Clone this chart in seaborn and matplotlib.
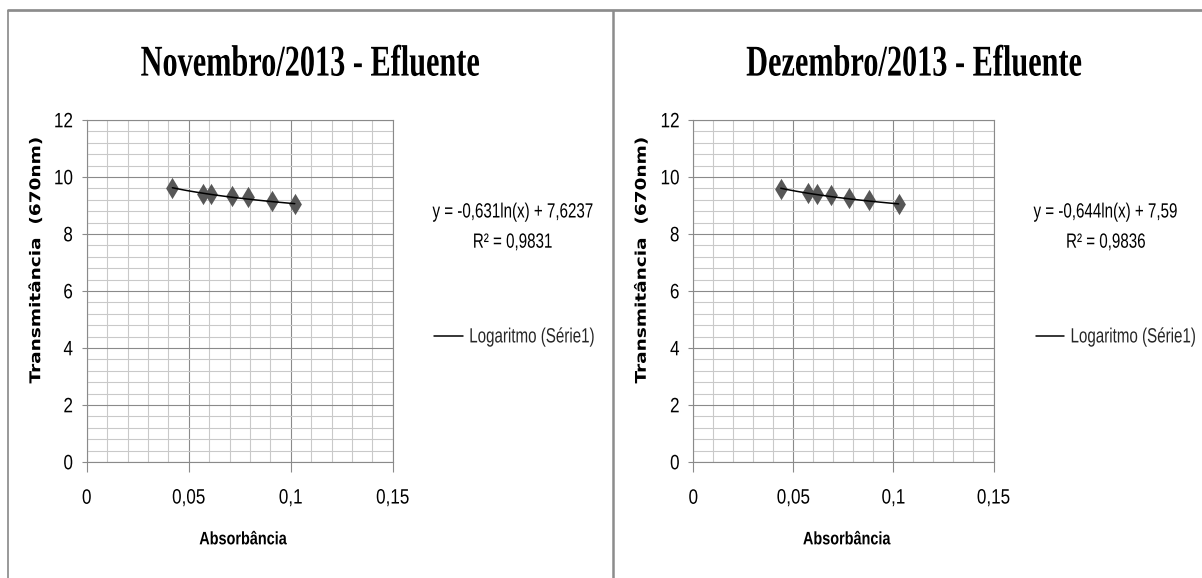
import numpy as np
import pandas as pd
import matplotlib
matplotlib.use("Agg")
import matplotlib.pyplot as plt
from matplotlib.patheffects import AbstractPathEffect
from matplotlib.transforms import Affine2D
from matplotlib.path import Path
from matplotlib.lines import Line2D
from matplotlib.ticker import MultipleLocator
import seaborn as sns

# Effluent readings: absorbance vs transmittance (670 nm)
nov_absorbancia = [0.042, 0.057, 0.061, 0.071, 0.079, 0.091, 0.102]
nov_transmitancia = [9.63, 9.42, 9.39, 9.34, 9.29, 9.15, 9.07]
dez_absorbancia = [0.0437, 0.0575, 0.0617, 0.0690, 0.0777, 0.0878, 0.1026]
dez_transmitancia = [9.58, 9.43, 9.40, 9.36, 9.26, 9.20, 9.07]

# Logarithmic trend fits: y = a*ln(x) + b
nov_a, nov_b, nov_r2 = -0.631, 7.6237, 0.9831
dez_a, dez_b, dez_r2 = -0.644, 7.59, 0.9836

titulos = ["Novembro/2013 - Efluente", "Dezembro/2013 - Efluente"]
x_ticks = [0, 0.05, 0.1, 0.15]
x_tick_labels = ["0", "0,05", "0,1", "0,15"]
y_ticks = [0, 2, 4, 6, 8, 10, 12]
y_tick_labels = ["0", "2", "4", "6", "8", "10", "12"]
x_label = "Absorbância"
y_label = "Transmitância  (670nm)"
legend_label = "Logaritmo (Série1)"


class Stretch(AbstractPathEffect):
    """Scale text glyphs about an anchor of their outline (tall, condensed type)."""

    def __init__(self, sx=1.0, sy=1.0, hx="center", vy="center"):
        super().__init__()
        self.sx, self.sy, self.hx, self.vy = sx, sy, hx, vy

    def draw_path(self, renderer, gc, tpath, affine, rgbFace=None):
        ext = tpath.get_extents()
        cx = {"left": ext.x0, "center": 0.5 * (ext.x0 + ext.x1), "right": ext.x1}[self.hx]
        cy = {"bottom": ext.y0, "center": 0.5 * (ext.y0 + ext.y1),
              "top": ext.y1, "baseline": 0.0}[self.vy]
        pre = Affine2D().translate(-cx, -cy).scale(self.sx, self.sy).translate(cx, cy)
        renderer.draw_path(gc, tpath, pre + affine, rgbFace)


def num_br(v, fmt="g"):
    return format(v, fmt).replace(".", ",")


sns.set_theme(style="white")
plt.rcParams["font.family"] = ["Liberation Sans", "DejaVu Sans"]

W, H = 1202, 578
fig = plt.figure(figsize=(W / 100, H / 100), dpi=100)
fig.patch.set_facecolor("white")


def fx(px):
    return px / W


def fy(py):
    return 1 - py / H


GRID_MAJOR = "#8a8a8a"
GRID_MINOR = "#c9c9c9"
MARKER_COLOR = "#575757"

diamante = Path([(0, 1), (0.6, 0), (0, -1), (-0.6, 0), (0, 1)],
                [Path.MOVETO, Path.LINETO, Path.LINETO, Path.LINETO, Path.CLOSEPOLY])

paineis = [
    dict(x=nov_absorbancia, y=nov_transmitancia, a=nov_a, b=nov_b, r2=nov_r2,
         titulo=titulos[0], rect=(86.7, 120, 392.7, 462), title_xy=(310, 75.6),
         eq_xy=(512.8, 217.5), r2_xy=(512.6, 247.7), leg_xy=(434.4, 337),
         ylab_x=36.4),
    dict(x=dez_absorbancia, y=dez_transmitancia, a=dez_a, b=dez_b, r2=dez_r2,
         titulo=titulos[1], rect=(693.3, 120, 993.5, 462), title_xy=(913.8, 75.6),
         eq_xy=(1105.7, 217.5), r2_xy=(1105.8, 247.7), leg_xy=(1035.7, 337),
         ylab_x=642),
]

for p in paineis:
    x0, y0, x1, y1 = p["rect"]
    ax = fig.add_axes([fx(x0), fy(y1), (x1 - x0) / W, (y1 - y0) / H])
    ax.set_facecolor("white")
    ax.set_axisbelow(True)

    pontos = pd.DataFrame({"Absorbância": p["x"], "Transmitância": p["y"]})
    xs = np.linspace(min(p["x"]), max(p["x"]), 80)
    tendencia = pd.DataFrame({"x": xs, "y": p["a"] * np.log(xs) + p["b"]})

    sns.scatterplot(data=pontos, x="Absorbância", y="Transmitância", ax=ax,
                    marker=diamante, s=235, color=MARKER_COLOR,
                    edgecolor=MARKER_COLOR, linewidth=0, zorder=3, legend=False)
    sns.lineplot(data=tendencia, x="x", y="y", ax=ax, color="black", lw=1.1,
                 zorder=4, legend=False, estimator=None, sort=False)
    linha = ax.lines[-1]

    ax.set_xlim(0, 0.15)
    ax.set_ylim(0, 12)
    ax.set_xticks(x_ticks, x_tick_labels)
    ax.set_yticks(y_ticks, y_tick_labels)
    ax.xaxis.set_minor_locator(MultipleLocator(0.01))
    ax.yaxis.set_minor_locator(MultipleLocator(0.4))

    ax.grid(True, which="major", color=GRID_MAJOR, lw=0.8)
    ax.grid(True, which="minor", color=GRID_MINOR, lw=0.8)
    for s in ax.spines.values():
        s.set_visible(True)
        s.set_color(GRID_MAJOR)
        s.set_linewidth(0.8)

    ax.tick_params(which="minor", length=0)
    ax.tick_params(axis="x", which="major", bottom=True, top=False, direction="out",
                   length=7.5, width=0.8, color=GRID_MAJOR, pad=13.0,
                   labelsize=12.3, labelcolor="black")
    ax.tick_params(axis="y", which="major", left=True, right=False, direction="out",
                   length=3.6, width=0.8, color=GRID_MAJOR, pad=6.3,
                   labelsize=12.3, labelcolor="black")
    for t in ax.get_xticklabels():
        t.set_path_effects([Stretch(1.0, 1.22, "center", "center")])
    for t in ax.get_yticklabels():
        t.set_path_effects([Stretch(1.0, 1.22, "right", "center")])

    ax.set_xlabel(x_label, fontsize=10.4, fontweight="bold", color="black")
    ax.xaxis.set_label_coords(((x0 + x1) / 2 + 3 - x0) / (x1 - x0), -(539 - y1) / (y1 - y0))
    ax.xaxis.label.set_va("center")
    ax.xaxis.label.set_path_effects([Stretch(1.0, 1.25, "center", "center")])

    ax.set_ylabel(y_label, fontsize=13.3, fontweight="bold", color="black",
                  fontfamily="DejaVu Sans")
    ax.yaxis.set_label_coords((p["ylab_x"] - x0) / (x1 - x0), (y1 - 260) / (y1 - y0))
    ax.yaxis.label.set(ha="center", va="center")
    ax.yaxis.label.set_path_effects([Stretch(1.0, 0.8, "center", "center")])

    # Chart title
    tx, ty = p["title_xy"]
    fig.text(fx(tx), fy(ty), p["titulo"], ha="center", va="baseline",
             fontsize=21.8, fontweight="bold", fontfamily="Liberation Serif",
             color="black", path_effects=[Stretch(1.0, 1.45, "center", "baseline")])

    # Trendline equation and R²
    eq = f"y = {num_br(p['a'])}ln(x) + {num_br(p['b'])}"
    r2 = f"R² = {num_br(p['r2'], '.4f')}"
    ex, ey = p["eq_xy"]
    fig.text(fx(ex), fy(ey), eq, ha="center", va="baseline", fontsize=10.9,
             color="black", path_effects=[Stretch(1.0, 1.36, "center", "baseline")])
    rx, ry = p["r2_xy"]
    fig.text(fx(rx), fy(ry), r2, ha="center", va="baseline", fontsize=10.9,
             color="black", path_effects=[Stretch(1.0, 1.36, "center", "baseline")])

    # Legend with the trendline only
    lx, ly = p["leg_xy"]
    leg = ax.legend(handles=[linha], labels=[legend_label], loc="center left",
                    bbox_to_anchor=(fx(lx), fy(ly)), bbox_transform=fig.transFigure,
                    frameon=False, fontsize=10.9, handlelength=1.9, handletextpad=0.4,
                    borderpad=0, borderaxespad=0)
    for t in leg.get_texts():
        t.set_path_effects([Stretch(1.0, 1.36, "left", "center")])

# Panel frame lines
BORDA = "#8c8c8c"
fig.add_artist(Line2D([fx(6.7), 1.0], [fy(10.3), fy(10.3)], transform=fig.transFigure,
                      color=BORDA, lw=1.95, solid_capstyle="butt"))
fig.add_artist(Line2D([fx(7.5), fx(7.5)], [fy(10.3), 0.0], transform=fig.transFigure,
                      color=BORDA, lw=1.25, solid_capstyle="butt"))
fig.add_artist(Line2D([fx(613), fx(613)], [fy(10.3), 0.0], transform=fig.transFigure,
                      color=BORDA, lw=1.8, solid_capstyle="butt"))

fig.savefig("out.png", dpi=100, facecolor="white")
